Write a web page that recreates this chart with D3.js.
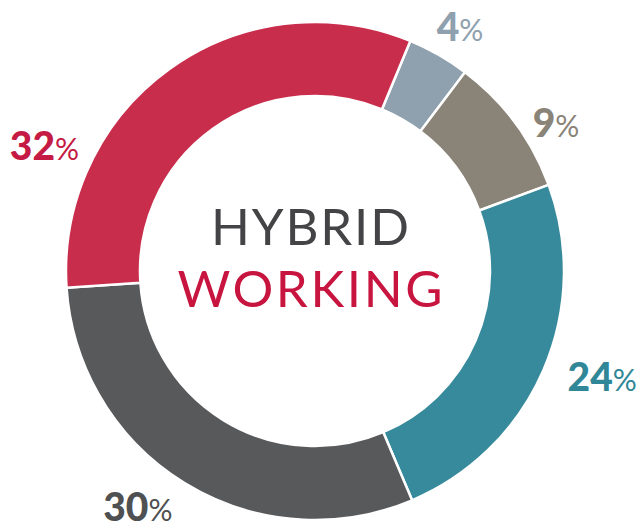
<!DOCTYPE html>
<html>
<head>
<meta charset="utf-8">
<script src="https://cdn.jsdelivr.net/npm/d3@7"></script>
<style>
  body { margin: 0; background: #fff; }
  svg { display: block; }
</style>
</head>
<body>
<div id="chart"></div>
<script>
// Data (clockwise from the top)
const categories = ["A", "B", "C", "D", "E"];
const shares = [4, 9, 24, 30, 32];
const colors = ["#8fa0ae", "#8a8478", "#378a9b", "#58595b", "#c92d4c"];
const labelColors = ["#8fa0ae", "#8a8478", "#2f8797", "#4f5052", "#c41a43"];
const titleLines = ["HYBRID", "WORKING"];

// Layout
const width = 641, height = 529;
const cx = 315, cy = 271;
const outerR = 249, innerR = 175;
const deg = Math.PI / 180;

// where each percentage label sits (angle in degrees, distance from centre)
const labelAngles = [30.7, 58.4, 110.2, 216.9, 294.8];
const labelRadii = [284, 283, 306, 295, 298];

const svg = d3.select("#chart")
    .append("svg")
    .attr("width", width)
    .attr("height", height);

const g = svg.append("g")
    .attr("transform", `translate(${cx},${cy})`);

const pie = d3.pie()
    .sort(null)
    .startAngle(22.5 * deg)
    .endAngle(382.5 * deg)
    .value(d => d);

const arc = d3.arc()
    .innerRadius(innerR)
    .outerRadius(outerR);

const arcs = pie(shares);

g.selectAll("path.slice")
    .data(arcs)
    .enter().append("path")
    .attr("class", "slice")
    .attr("d", arc)
    .attr("fill", (d, i) => colors[i])
    .attr("stroke", "#fff")
    .attr("stroke-width", 2.5);

// percentage labels
const labels = g.selectAll("text.pct")
    .data(arcs)
    .enter().append("text")
    .attr("class", "pct")
    .attr("x", (d, i) => d3.pointRadial(labelAngles[i] * deg, labelRadii[i])[0])
    .attr("y", (d, i) => d3.pointRadial(labelAngles[i] * deg, labelRadii[i])[1] + 14)
    .attr("text-anchor", "middle")
    .style("font-family", "Lato, 'Noto Sans', sans-serif")
    .style("fill", (d, i) => labelColors[i]);

labels.append("tspan")
    .style("font-size", "39px")
    .style("font-weight", 900)
    .text(d => d.data);

labels.append("tspan")
    .style("font-size", "30px")
    .style("font-weight", 400)
    .text("%");

// centre title
const titleColors = ["#444446", "#c8153f"];
const titleBaselines = [-26, 36];
const titleWidths = [198, 265];

g.selectAll("text.title")
    .data(titleLines)
    .enter().append("text")
    .attr("class", "title")
    .attr("x", -5)
    .attr("y", (d, i) => titleBaselines[i])
    .attr("text-anchor", "middle")
    .attr("textLength", (d, i) => titleWidths[i])
    .attr("lengthAdjust", "spacing")
    .style("font-family", "Lato, 'Noto Sans', sans-serif")
    .style("font-weight", 400)
    .style("font-size", "51px")
    .style("fill", (d, i) => titleColors[i])
    .text(d => d);
</script>
</body>
</html>
